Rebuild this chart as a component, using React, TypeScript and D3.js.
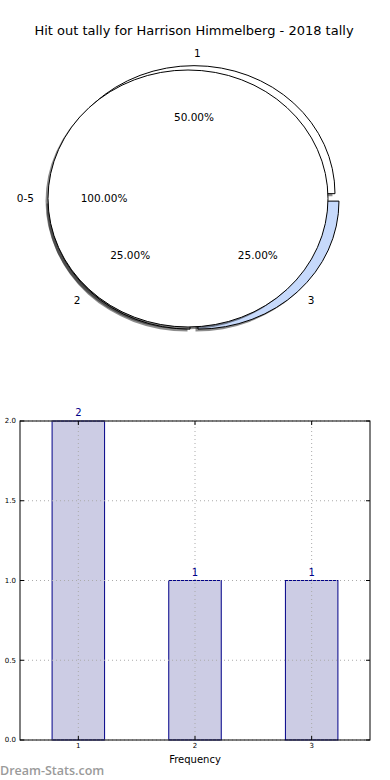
import React from 'react';
import * as d3 from 'd3';

const width = 390;
const height = 780;
const font = 'DejaVu Sans, sans-serif';

const title = 'Hit out tally for Harrison Himmelberg - 2018 tally';

// pie data: a full circle for the range, and the split by tally
const rangeLabels = ['0-5'];
const rangeValues = [4];
const tallyLabels = ['1', '2', '3'];
const tallyValues = [2, 1, 1];
const tallyColors = ['#ffffff', '#ffffff', '#c6d9fb'];
const tallyExplode = [0.03, 0.04, 0.04];

// bar data
const barCategories = [1, 2, 3];
const barValues = [2, 1, 1];
const yTicks = [0, 0.5, 1.0, 1.5, 2.0];

const frontPie = { cx: 188, cy: 198.5, rx: 140, ry: 128.5 };
const backPie = { cx: 194, cy: 197.5, rx: 141, ry: 128 };
const shadow = { dx: -2.5, dy: 2.5 };

const margin = { top: 421, right: 20, bottom: 40, left: 20 };

function pieLayout(values: number[]) {
  return d3.pie<number>().sort(null).startAngle(Math.PI / 2).endAngle(Math.PI / 2 - 2 * Math.PI)(values);
}

const unitArc = d3.arc<d3.PieArcDatum<number>>().innerRadius(0).outerRadius(1);

function PieChart() {
  const back = pieLayout(tallyValues);
  const front = pieLayout(rangeValues);
  const total = d3.sum(tallyValues);
  const rangeTotal = d3.sum(rangeValues);

  // d3 angle: 0 at top, clockwise -> screen direction
  const dir = (a: number) => [Math.sin(a), -Math.cos(a)];

  const backWedges = back.map((d, i) => {
    const mid = (d.startAngle + d.endAngle) / 2;
    const [ux, uy] = dir(mid);
    const e = tallyExplode[i];
    const ox = backPie.cx + ux * e * backPie.rx;
    const oy = backPie.cy + uy * e * backPie.ry;
    return { d, i, ux, uy, ox, oy };
  });

  return (
    <g>
      {backWedges.map(({ d, i, ox, oy }) => (
        <g key={'s' + i}>
          <path
            d={unitArc(d) || ''}
            transform={`translate(${ox + shadow.dx},${oy + shadow.dy}) scale(${backPie.rx},${backPie.ry})`}
            fill="#000"
            fillOpacity={0.45}
          />
          <path
            d={unitArc(d) || ''}
            transform={`translate(${ox},${oy}) scale(${backPie.rx},${backPie.ry})`}
            fill={tallyColors[i]}
            stroke="#000"
            strokeWidth={1}
            vectorEffect="non-scaling-stroke"
          />
        </g>
      ))}
      {front.map((d, i) => (
        <g key={'f' + i}>
          <path
            d={unitArc(d) || ''}
            transform={`translate(${frontPie.cx + shadow.dx},${frontPie.cy + shadow.dy}) scale(${frontPie.rx},${frontPie.ry})`}
            fill="#000"
            fillOpacity={0.45}
          />
          <path
            d={unitArc(d) || ''}
            transform={`translate(${frontPie.cx},${frontPie.cy}) scale(${frontPie.rx},${frontPie.ry})`}
            fill="#fff"
            stroke="#000"
            strokeWidth={1}
            vectorEffect="non-scaling-stroke"
          />
        </g>
      ))}
      {backWedges.map(({ d, i, ux, uy, ox, oy }) => (
        <g key={'l' + i} fontFamily={font} fontSize={10.5} fill="#000">
          <text
            x={ox + ux * 1.1 * backPie.rx}
            y={oy + uy * 1.1 * backPie.ry}
            dy="0.35em"
            textAnchor={ux > 1e-9 || Math.abs(ux) < 1e-9 ? 'start' : 'end'}
          >
            {tallyLabels[i]}
          </text>
          <text x={ox + ux * 0.6 * backPie.rx} y={oy + uy * 0.6 * backPie.ry} dy="0.35em" textAnchor="middle">
            {((d.data / total) * 100).toFixed(2) + '%'}
          </text>
        </g>
      ))}
      {front.map((d, i) => {
        // a single full wedge: matplotlib puts its label at 180 degrees
        const ux = -1;
        const uy = 0;
        return (
          <g key={'fl' + i} fontFamily={font} fontSize={10.5} fill="#000">
            <text x={frontPie.cx + ux * 1.1 * frontPie.rx} y={frontPie.cy + uy} dy="0.35em" textAnchor="end">
              {rangeLabels[i]}
            </text>
            <text x={frontPie.cx + ux * 0.6 * frontPie.rx} y={frontPie.cy + uy} dy="0.35em" textAnchor="middle">
              {((d.data / rangeTotal) * 100).toFixed(2) + '%'}
            </text>
          </g>
        );
      })}
    </g>
  );
}

function BarChart() {
  const x = d3.scaleLinear().domain([0.5, 3.5]).range([margin.left, width - margin.right]);
  const y = d3.scaleLinear().domain([0, 2]).range([height - margin.bottom, margin.top]);
  const bw = x(0.45) - x(0);
  const grid = { stroke: '#aaaaaa', strokeWidth: 1, strokeDasharray: '1,3' };

  return (
    <g fontFamily={font}>
      {barCategories.map((c, i) => (
        <rect
          key={c}
          x={x(c) - bw / 2}
          y={y(barValues[i])}
          width={bw}
          height={y(0) - y(barValues[i])}
          fill="#ccccE4"
          stroke="#000088"
          strokeWidth={1}
        />
      ))}
      {yTicks.map((t) => (
        <line key={'gy' + t} x1={x.range()[0]} x2={x.range()[1]} y1={y(t)} y2={y(t)} {...grid} />
      ))}
      {barCategories.map((c) => (
        <line key={'gx' + c} x1={x(c)} x2={x(c)} y1={y.range()[0]} y2={y.range()[1]} {...grid} />
      ))}
      <rect
        x={x.range()[0]}
        y={y.range()[1]}
        width={x.range()[1] - x.range()[0]}
        height={y.range()[0] - y.range()[1]}
        fill="none"
        stroke="#000"
        strokeWidth={1}
      />
      {yTicks.map((t) => (
        <g key={'ty' + t}>
          <line x1={x.range()[0]} x2={x.range()[0] + 4} y1={y(t)} y2={y(t)} stroke="#000" />
          <line x1={x.range()[1]} x2={x.range()[1] - 4} y1={y(t)} y2={y(t)} stroke="#000" />
          <text x={x.range()[0] - 4} y={y(t)} dy="0.35em" textAnchor="end" fontSize={7} fill="#000">
            {d3.format('.1f')(t)}
          </text>
        </g>
      ))}
      {barCategories.map((c) => (
        <g key={'tx' + c}>
          <line x1={x(c)} x2={x(c)} y1={y(0)} y2={y(0) - 4} stroke="#000" />
          <line x1={x(c)} x2={x(c)} y1={y(2)} y2={y(2) + 4} stroke="#000" />
          <text x={x(c)} y={y(0) + 8} textAnchor="middle" fontSize={7} fill="#000">
            {c}
          </text>
        </g>
      ))}
      {barCategories.map((c, i) => (
        <text key={'v' + c} x={x(c)} y={y(barValues[i]) - 5} textAnchor="middle" fontSize={10} fill="#000088">
          {barValues[i]}
        </text>
      ))}
      <text x={(x.range()[0] + x.range()[1]) / 2} y={y(0) + 23} textAnchor="middle" fontSize={10} fill="#000">
        Frequency
      </text>
    </g>
  );
}

export default function App() {
  return (
    <svg width={width} height={height} style={{ position: 'absolute', left: 0, top: 0 }}>
      <rect width={width} height={height} fill="#fff" />
      <text x={194} y={30} dy="0.35em" textAnchor="middle" fontFamily={font} fontSize={13} fill="#000">
        {title}
      </text>
      <PieChart />
      <BarChart />
      <text x={0} y={775} fontFamily="Open Sans, sans-serif" fontSize={12.5} fontWeight={600} fill="#9a9a9a">
        Dream-Stats.com
      </text>
    </svg>
  );
}
